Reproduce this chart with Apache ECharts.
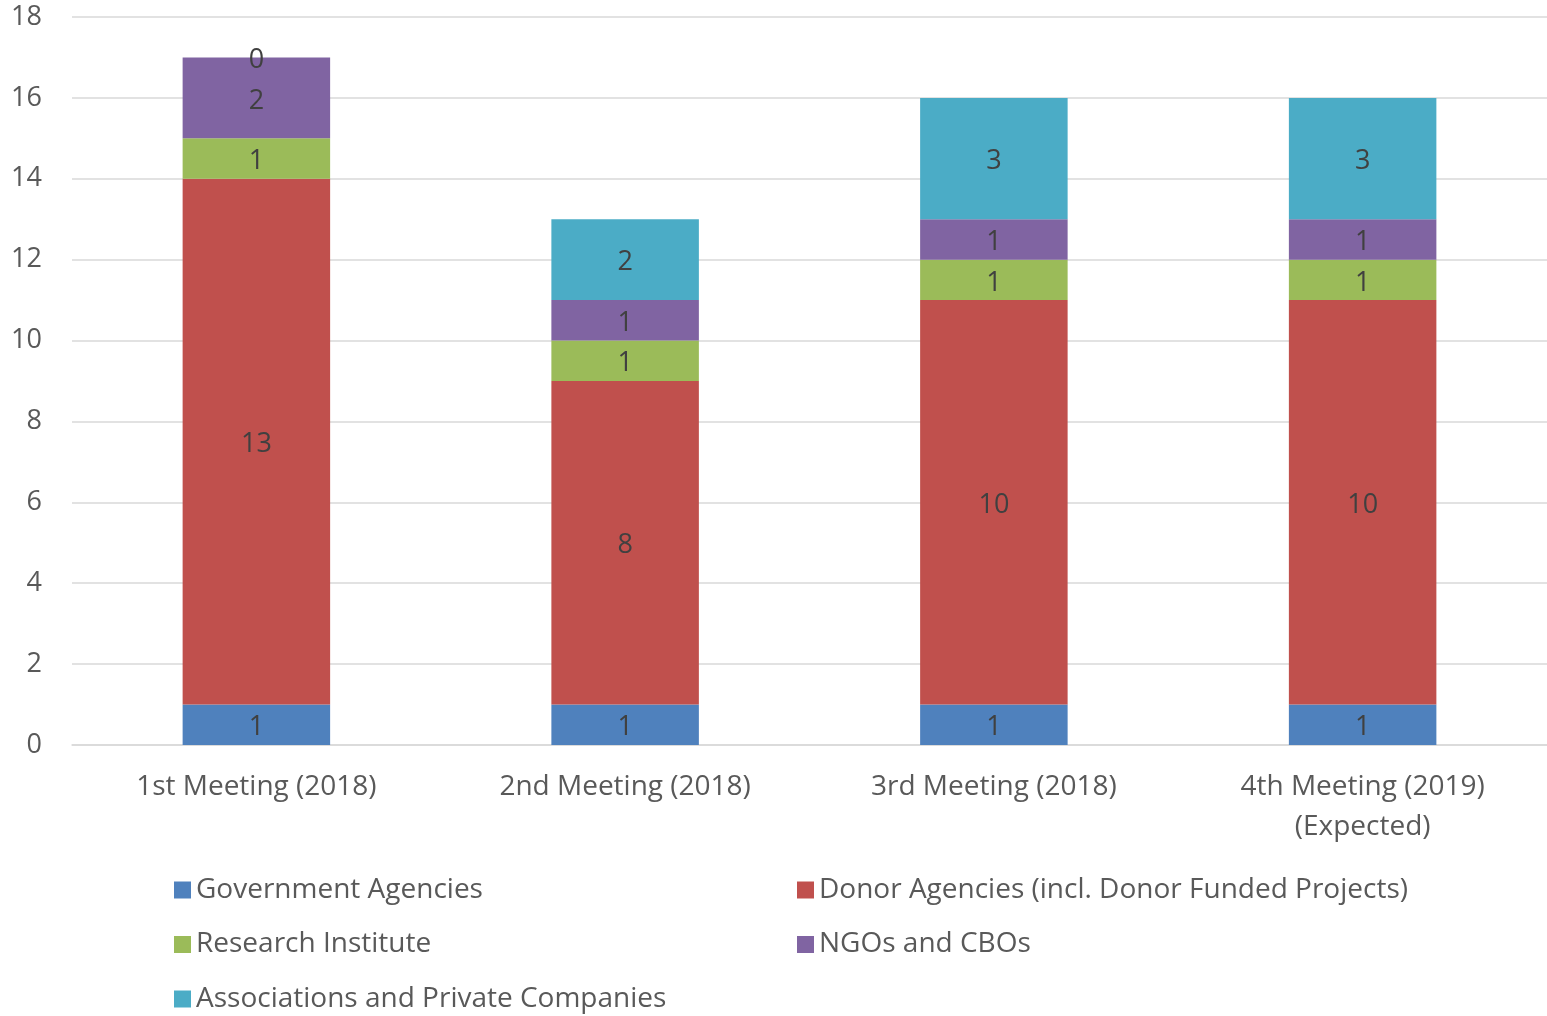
<!DOCTYPE html>
<html><head><meta charset="utf-8">
<script src="https://cdn.jsdelivr.net/npm/echarts@6/dist/echarts.min.js"></script>
<style>html,body{margin:0;padding:0;background:#fff}#c{width:1547px;height:1016px}</style>
</head><body><div id="c"></div>
<script>
const categories = ['1st Meeting (2018)', '2nd Meeting (2018)', '3rd Meeting (2018)', '4th Meeting (2019)\n(Expected)'];
const seriesNames = ['Government Agencies', 'Donor Agencies (incl. Donor Funded Projects)', 'Research Institute', 'NGOs and CBOs', 'Associations and Private Companies'];
const government = [1, 1, 1, 1];
const donor = [13, 8, 10, 10];
const research = [1, 1, 1, 1];
const ngos = [2, 1, 1, 1];
const associations = [0, 2, 3, 3];
const yTicks = [0, 2, 4, 6, 8, 10, 12, 14, 16, 18];
const colors = ['#4f81bd', '#c0504d', '#9bbb59', '#8064a2', '#4bacc6'];

const FONT = 'Open Sans';
const values = [government, donor, research, ngos, associations];
const chart = echarts.init(document.getElementById('c'));
chart.setOption({
  animation: false,
  textStyle: {fontFamily: FONT},
  grid: {left: 72, width: 1479, top: 17, bottom: 271},
  xAxis: {
    type: 'category', data: categories,
    axisLine: {lineStyle: {color: '#d9d9d9', width: 1.5}},
    axisTick: {show: false},
    axisLabel: {color: '#595959', fontSize: 28, fontFamily: FONT, margin: 22, lineHeight: 40}
  },
  yAxis: {
    type: 'value', min: yTicks[0], max: yTicks[yTicks.length - 1], interval: 2,
    axisLine: {show: false}, axisTick: {show: false},
    splitLine: {lineStyle: {color: '#d9d9d9', width: 1.5}},
    axisLabel: {color: '#595959', fontSize: 27, fontFamily: FONT, margin: 30}
  },
  legend: [
    {
      data: [seriesNames[0], seriesNames[2], seriesNames[4]],
      orient: 'vertical', left: 169, top: 865, height: 200, itemWidth: 17, itemHeight: 17, itemGap: 14.5, itemTextGap: 10,
      icon: 'rect', textStyle: {color: '#595959', fontSize: 28, fontFamily: FONT, lineHeight: 40}
    },
    {
      data: [seriesNames[1], seriesNames[3]],
      orient: 'vertical', left: 792, top: 865, height: 200, itemWidth: 17, itemHeight: 17, itemGap: 14.5, itemTextGap: 10,
      icon: 'rect', textStyle: {color: '#595959', fontSize: 28, fontFamily: FONT, lineHeight: 40}
    }
  ],
  series: seriesNames.map((n, i) => ({
    name: n, type: 'bar', stack: 'total', data: values[i],
    barWidth: '40%',
    itemStyle: {color: colors[i]},
    label: {show: true, position: 'inside', offset: [0, 3], color: '#404040', fontSize: 27, fontFamily: FONT}
  }))
});
</script></body></html>
